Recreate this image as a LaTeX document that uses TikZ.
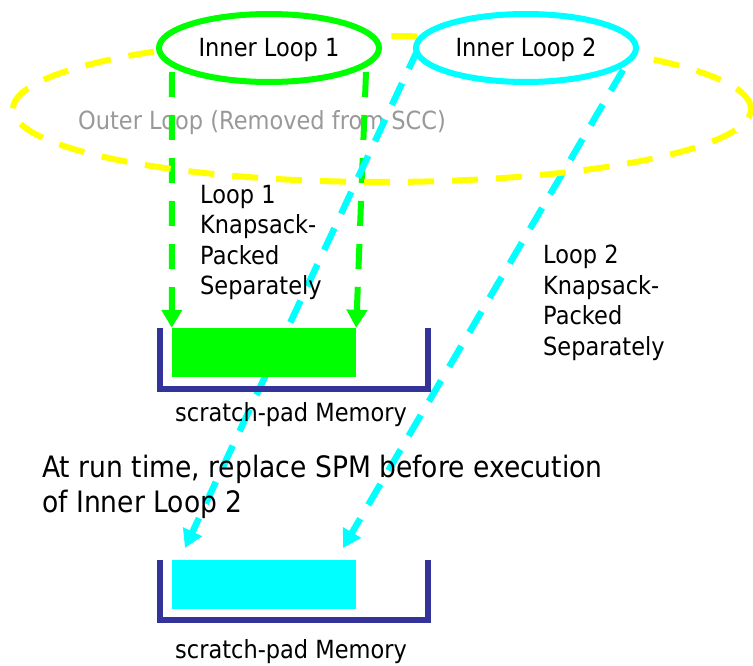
\documentclass[tikz,border=0pt]{standalone}
\usepackage{fontspec}
\setmainfont{DejaVu Sans}[FakeStretch=0.9]
\usetikzlibrary{arrows.meta,shapes.geometric}
\definecolor{lgreen}{RGB}{0,255,0}
\definecolor{lcyan}{RGB}{0,255,255}
\definecolor{lyellow}{RGB}{255,255,0}
\definecolor{spmblue}{RGB}{51,51,153}
\definecolor{txtgray}{RGB}{153,153,153}
\begin{document}
\begin{tikzpicture}[x=1pt,y=-1pt,
  normtext/.style={inner sep=0pt, font=\fontsize{25}{30.5}\selectfont, align=left},
  bigtext/.style={inner sep=0pt, font=\fontsize{29.5}{35}\selectfont, align=left},
  loopell/.style={ellipse, draw=#1, line width=6pt, fill=white, minimum width=220pt,
    minimum height=68pt, inner sep=0pt, text height=22pt, text depth=4pt,
    font=\fontsize{25}{30}\selectfont},
  outerloop/.style={draw=lyellow, line width=6pt, dash pattern=on 26pt off 18pt},
  greenarrow/.style={draw=lgreen, line width=6pt, dash pattern=on 25pt off 18pt,
    -{Triangle[width=20pt,length=18pt]}, fill=none},
  cyanarrow/.style={draw=lcyan, line width=6.5pt, dash pattern=on 24pt off 16pt,
    -{Triangle[width=20pt,length=18pt]}},
  memblock/.style={fill=#1, draw=none, minimum width=184pt, minimum height=49pt, inner sep=0pt},
  bracket/.style={draw=spmblue, line width=6pt, line join=miter}
]
\useasboundingbox (0,0) rectangle (753,666);

% outer loop label
\node[normtext, text=txtgray, anchor=base west] (outertxt) at (78,130) {Outer Loop (Removed from SCC)};

% memory blocks (positions)
\node[memblock=lgreen] (mem1) at (264,352.5) {};
\node[memblock=lcyan] (mem2) at (264,584.5) {};

% arrow end points
\coordinate (g1s) at (172,72);
\coordinate (g2s) at (366,72);
\coordinate (c1s) at (419,47);
\coordinate (c2s) at (623,70);
\coordinate (c1e) at (185,548);
\coordinate (c2e) at (343,548);

% dashed arrows
\draw[greenarrow] (g1s) -- (mem1.north west);
\draw[greenarrow] (g2s) -- (mem1.north east);
\draw[cyanarrow] (c1s) -- (c1e);
\draw[cyanarrow] (c2s) -- (c2e);

% outer loop
\draw[outerloop] (382,109) ellipse [x radius=369pt, y radius=73pt];

% inner loops
\node[loopell=lgreen] (il1) at (269,48) {Inner Loop 1};
\node[loopell=lcyan] (il2) at (526,48) {Inner Loop 2};

% memory blocks drawn on top
\node[memblock=lgreen] at (mem1) {};
\node[memblock=lcyan] at (mem2) {};

% brackets
\draw[bracket] (160,328) -- (160,389) -- (428,389) -- (428,328);
\draw[bracket] (160,560) -- (160,620) -- (428,620) -- (428,560);

% labels
\node[normtext, anchor=base west] (spm1) at (175,421) {scratch-pad Memory};
\node[normtext, anchor=base west] (spm2) at (175,658) {scratch-pad Memory};
\node[normtext, anchor=north west] (l1txt) at (200,184.8) {Loop 1\\Knapsack-\\Packed\\Separately};
\node[normtext, anchor=north west] (l2txt) at (543,244.8) {Loop 2\\Knapsack-\\Packed\\Separately};
\node[bigtext, anchor=north west] (runtxt) at (42,454.5) {At run time, replace SPM before execution\\of Inner Loop 2};
\end{tikzpicture}
\end{document}
